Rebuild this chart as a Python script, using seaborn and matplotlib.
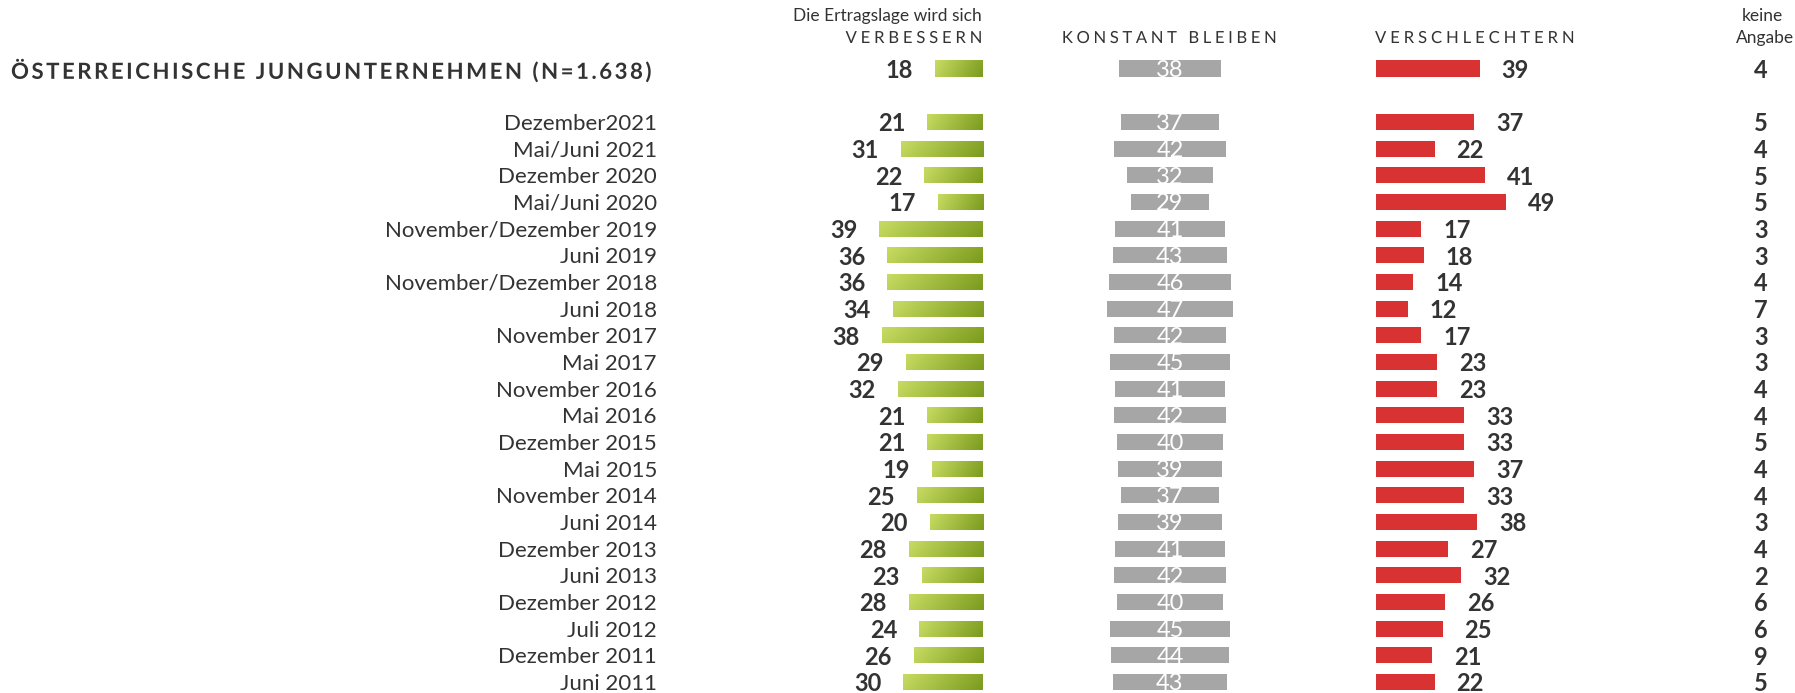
import numpy as np
import pandas as pd
import seaborn as sns
import matplotlib.pyplot as plt
from matplotlib.colors import LinearSegmentedColormap
from matplotlib.transforms import blended_transform_factory, IdentityTransform
from matplotlib.patheffects import AbstractPathEffect
from matplotlib.path import Path
from matplotlib.textpath import text_to_path

sns.set_theme(style="white")
plt.rcParams['font.family'] = ['Lato', 'DejaVu Sans']

# ---------------- data ----------------
total_label = "ÖSTERREICHISCHE JUNGUNTERNEHMEN (N=1.638)"
periods = ["Dezember2021", "Mai/Juni 2021", "Dezember 2020", "Mai/Juni 2020",
           "November/Dezember 2019", "Juni 2019", "November/Dezember 2018",
           "Juni 2018", "November 2017", "Mai 2017", "November 2016", "Mai 2016",
           "Dezember 2015", "Mai 2015", "November 2014", "Juni 2014",
           "Dezember 2013", "Juni 2013", "Dezember 2012", "Juli 2012",
           "Dezember 2011", "Juni 2011"]
total_values = [18, 38, 39, 4]
better = [21, 31, 22, 17, 39, 36, 36, 34, 38, 29, 32, 21, 21, 19, 25, 20, 28, 23, 28, 24, 26, 30]
same = [37, 42, 32, 29, 41, 43, 46, 47, 42, 45, 41, 42, 40, 39, 37, 39, 41, 42, 40, 45, 44, 43]
worse = [37, 22, 41, 49, 17, 18, 14, 12, 17, 23, 23, 33, 33, 37, 33, 38, 27, 32, 26, 25, 21, 22]
no_answer = [5, 4, 5, 5, 3, 3, 4, 7, 3, 3, 4, 4, 5, 4, 4, 3, 4, 2, 6, 6, 9, 5]

head_top = "Die Ertragslage wird sich"
col_better = "VERBESSERN"
col_same = "KONSTANT BLEIBEN"
col_worse = "VERSCHLECHTERN"
col_none = ["keine", "Angabe"]


# letter spacing for a single text object (draws the glyph outlines shifted)
class Tracking(AbstractPathEffect):
    def __init__(self, text, track_px):
        super().__init__()
        self.text = text
        self.track = track_px

    def draw_path(self, renderer, gc, tpath, affine, rgbFace=None):
        s = self.text.get_text()
        prop = self.text.get_fontproperties()
        try:
            font = text_to_path._get_font(prop)
            info, gmap, _ = text_to_path.get_glyphs_with_font(font, s)
            lengths = [len(gmap[g[0]][0]) for g in info]
        except Exception:
            lengths = None
        verts = affine.transform(tpath.vertices)
        codes = tpath.codes
        if lengths is None or sum(lengths) != len(verts):
            renderer.draw_path(gc, Path(verts, codes), IdentityTransform(), rgbFace)
            return
        ngl = len(lengths)
        ha = self.text.get_horizontalalignment()
        frac = {"left": 0.0, "center": 0.5, "right": 1.0}.get(ha, 0.0)
        base = -frac * (ngl - 1) * self.track
        shifts = np.repeat(np.arange(ngl) * self.track + base, lengths)
        verts = verts.copy()
        verts[:, 0] += shifts
        renderer.draw_path(gc, Path(verts, codes), IdentityTransform(), rgbFace)


def spaced(t, track_px):
    t.set_path_effects([Tracking(t, track_px)])
    return t


# ---------------- frame ----------------
df = pd.DataFrame({
    "label": [total_label] + periods,
    "better": [total_values[0]] + better,
    "same": [total_values[1]] + same,
    "worse": [total_values[2]] + worse,
    "none": [total_values[3]] + no_answer,
})
spacer = " "
order = [total_label, spacer] + periods
n = len(order)

TXT = "#333333"
GREEN_L, GREEN_D = "#c8dc64", "#7b9b1d"
GRAY = "#a6a6a6"
RED = "#d93232"

W, H = 1795, 693
fig = plt.figure(figsize=(W / 100, H / 100), dpi=100)

row_px = 26.67
top_px = 68.5 - row_px / 2
bot_px = top_px + n * row_px
ax_bottom = (H - bot_px) / H
ax_height = (bot_px - top_px) / H
px_per_unit = 2.66


def make_ax(left_px, width_px):
    return fig.add_axes([left_px / W, ax_bottom, width_px / W, ax_height])


# green (grows to the left, ends at x=983)
ax_g = make_ax(700, 283)
sns.barplot(data=df, x="better", y="label", order=order, orient="h",
            color=GREEN_D, width=0.6, saturation=1, ax=ax_g, linewidth=0)

# gray (centered at x=1170)
ax_s = make_ax(1020, 300)
half = 150 / px_per_unit
df_s = df.assign(lo=-df["same"] / 2, hi=df["same"] / 2)
sns.barplot(data=df_s, x="hi", y="label", order=order, orient="h",
            color=GRAY, width=0.6, saturation=1, ax=ax_s, linewidth=0)
sns.barplot(data=df_s, x="lo", y="label", order=order, orient="h",
            color=GRAY, width=0.6, saturation=1, ax=ax_s, linewidth=0)
ax_s.set_xlim(-half, half)

# red (grows to the right from x=1376)
ax_r = make_ax(1376, 300)
sns.barplot(data=df, x="worse", y="label", order=order, orient="h",
            color=RED, width=0.6, saturation=1, ax=ax_r, linewidth=0)
ax_r.set_xlim(0, 300 / px_per_unit)

# gradient fill for green bars
cmap = LinearSegmentedColormap.from_list("g", [GREEN_L, GREEN_D])
gx = np.linspace(1, 0, 200)[None, :]
gy = np.linspace(0, 1, 20)[:, None]
grad = np.clip(gx * 0.85 + gy * 0.15, 0, 1)
for p in list(ax_g.patches):
    x0, y0 = p.get_x(), p.get_y()
    w, h = p.get_width(), p.get_height()
    if not np.isfinite(w) or w == 0:
        continue
    im = ax_g.imshow(grad, cmap=cmap, vmin=0, vmax=1, aspect="auto",
                     extent=(x0, x0 + w, y0 + h, y0), interpolation="bilinear",
                     zorder=3)
    im.set_clip_path(p)
ax_g.set_xlim(283 / px_per_unit, 0)

for ax in (ax_g, ax_s, ax_r):
    ax.set_ylim(n - 0.5, -0.5)
    ax.axis("off")

# value labels
NUM = 17
gap = 22 / px_per_unit
ypos = {lab: order.index(lab) for lab in df["label"]}
for _, r in df.iterrows():
    y = ypos[r["label"]]
    ax_g.text(r["better"] + gap, y, f"{r['better']}", ha="right", va="center_baseline",
              fontsize=NUM, fontweight="bold", color=TXT)
    ax_s.text(0, y, f"{r['same']}", ha="center", va="center_baseline",
              fontsize=NUM, color="white", zorder=5)
    ax_r.text(r["worse"] + gap, y, f"{r['worse']}", ha="left", va="center_baseline",
              fontsize=NUM, fontweight="bold", color=TXT)

# keine Angabe + row labels
tr = blended_transform_factory(fig.transFigure, ax_g.transData)
for _, r in df.iterrows():
    y = ypos[r["label"]]
    fig.text(1761 / W, y, f"{r['none']}", transform=tr, ha="center", va="center_baseline",
             fontsize=NUM, fontweight="bold", color=TXT)
    if r["label"] == total_label:
        spaced(fig.text(11 / W, y, r["label"], transform=tr, ha="left",
                        va="center_baseline", fontsize=16, fontweight="bold",
                        color=TXT), 2.5)
    else:
        fig.text(657 / W, y, r["label"], transform=tr, ha="right", va="center_baseline",
                 fontsize=16, color=TXT)


# column headers
def fy(py):
    return 1 - py / H


HEAD = 12.5
fig.text(982 / W, fy(16), head_top, ha="right", va="center", fontsize=HEAD, color=TXT)
spaced(fig.text(982 / W, fy(38), col_better, ha="right", va="center", fontsize=12,
                color=TXT), 3.8)
spaced(fig.text(1169 / W, fy(38), col_same, ha="center", va="center", fontsize=12,
                color=TXT), 3.6)
spaced(fig.text(1375 / W, fy(38), col_worse, ha="left", va="center", fontsize=12,
                color=TXT), 3.9)
fig.text(1762 / W, fy(16), col_none[0], ha="center", va="center", fontsize=HEAD, color=TXT)
fig.text(1794 / W, fy(38), col_none[1], ha="right", va="center", fontsize=HEAD, color=TXT)

fig.savefig("out.png", dpi=100)
